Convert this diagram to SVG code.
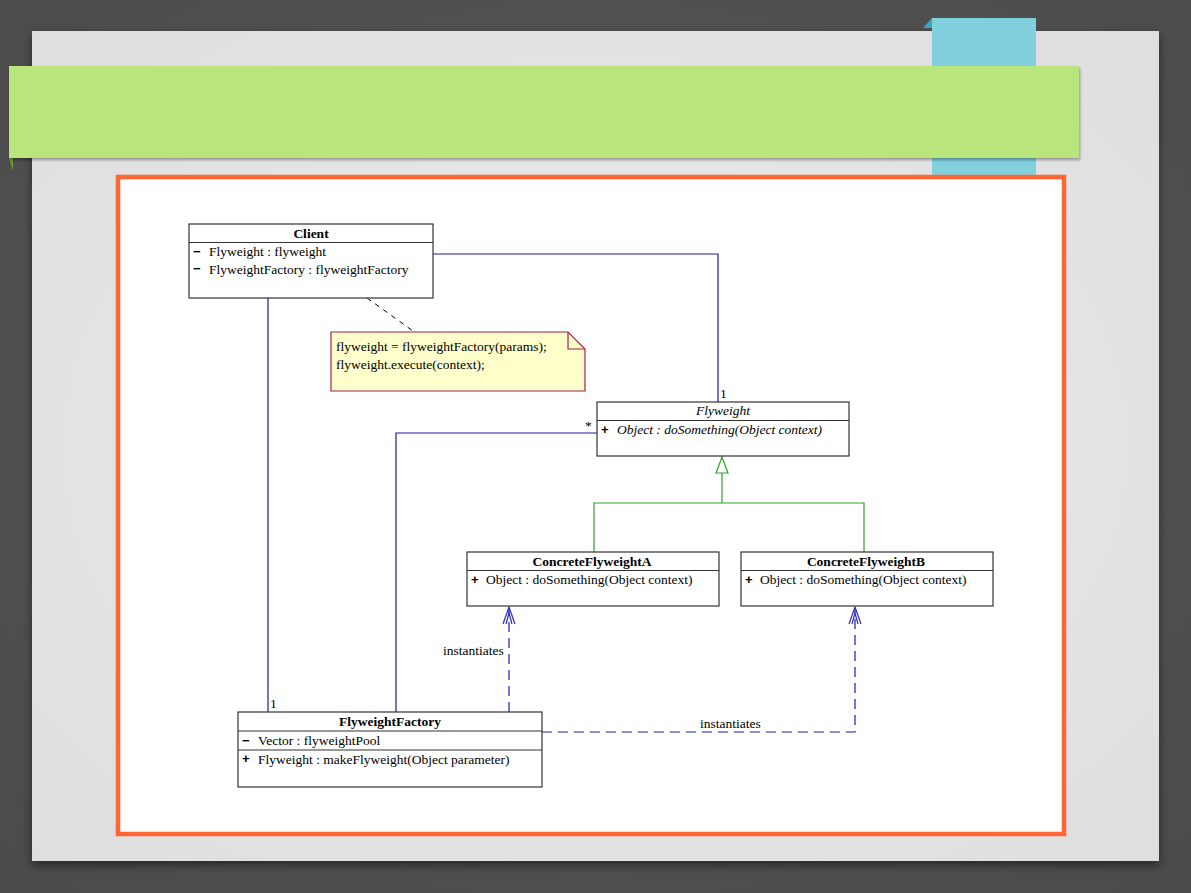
<svg xmlns="http://www.w3.org/2000/svg" width="1191" height="893" viewBox="0 0 1191 893">
<defs>
<radialGradient id="bg" cx="50%" cy="45%" r="75%">
<stop offset="0" stop-color="#5a5a5a"/><stop offset="1" stop-color="#4a4a4a"/>
</radialGradient>
<radialGradient id="panel" cx="50%" cy="50%" r="70%">
<stop offset="0" stop-color="#ececec"/><stop offset="1" stop-color="#dedede"/>
</radialGradient>
<filter id="sh" x="-5%" y="-5%" width="110%" height="115%">
<feDropShadow dx="0" dy="4" stdDeviation="5" flood-color="#000" flood-opacity="0.5"/>
</filter>
<filter id="sh2" x="-5%" y="-10%" width="110%" height="130%">
<feDropShadow dx="1" dy="2" stdDeviation="1.5" flood-color="#000" flood-opacity="0.35"/>
</filter>
</defs>
<style>
.box{fill:#fff;stroke:#333;stroke-width:1.2}
.sep{stroke:#333;stroke-width:1.2}
text.t{font-family:'Liberation Serif',serif;font-size:13.5px;fill:#000}
.b{font-weight:bold}
.i{font-style:italic}
text.m{font-family:'Liberation Sans',sans-serif;font-weight:bold;font-size:13px;fill:#000}
.assoc{fill:none;stroke:#1a1aa0;stroke-width:1.2}
.gen{fill:none;stroke:#2aa52a;stroke-width:1.2}
.dep{fill:none;stroke:#1a1ac0;stroke-width:1.2;stroke-dasharray:10,6}
.arr{fill:none;stroke:#2a2ac0;stroke-width:1.2}
</style>
<rect x="0" y="0" width="1191" height="893" fill="url(#bg)"/>
<rect x="32" y="31" width="1127" height="830" fill="url(#panel)" filter="url(#sh)"/>
<polygon points="932,18 923,28 932,28" fill="#3ea5b8"/>
<rect x="932" y="18" width="104" height="160" fill="#82d0de"/>
<polygon points="9,158 13,158 13,171" fill="#6a9e34"/>
<rect x="9" y="66" width="1070" height="92" fill="#b8e67c" filter="url(#sh2)"/>
<rect x="118" y="177" width="946" height="657" fill="#fff" stroke="#ff6633" stroke-width="4.5"/>

<g id="connectors" font-family="Liberation Serif, serif">
<polyline class="assoc" points="433,254 718,254 718,402"/>
<polyline class="assoc" points="268,298 268,712"/>
<polyline class="assoc" points="597,433 396,433 396,712"/>
<line x1="367" y1="298" x2="413" y2="331" stroke="#000" stroke-width="1" stroke-dasharray="5,5"/>
<polyline class="gen" points="594,552 594,503 864,503 864,552"/>
<line class="gen" x1="722" y1="503" x2="722" y2="473"/>
<polygon class="gen" fill="#fff" points="722,457 716,473 728,473"/>
<polyline class="dep" points="509,712 509,608"/>
<polyline class="arr" points="503,624 509,607 515,624"/>
<polyline class="arr" points="506,624 509,613 512,624"/>
<polyline class="dep" points="542,732 855,732 855,608"/>
<polyline class="arr" points="849,624 855,607 861,624"/>
<polyline class="arr" points="852,624 855,613 858,624"/>
<text class="t" x="720" y="398">1</text>
<text class="t" x="270" y="708">1</text>
<text class="t" x="585" y="430">*</text>
<text class="t" x="443" y="655">instantiates</text>
<text class="t" x="700" y="728">instantiates</text>
</g>

<g id="client" font-family="Liberation Serif, serif">
<rect class="box" x="189" y="224" width="244" height="74"/>
<line class="sep" x1="189" y1="242.5" x2="433" y2="242.5"/>
<text class="t b" x="311" y="238" text-anchor="middle">Client</text>
<text class="m" x="193" y="256">−</text>
<text class="t" x="209" y="256">Flyweight : flyweight</text>
<text class="m" x="193" y="273">−</text>
<text class="t" x="209" y="274">FlyweightFactory : flyweightFactory</text>
</g>

<g id="note" font-family="Liberation Serif, serif">
<polygon points="331,332 568,332 585,349 585,391 331,391" fill="#ffffcc" stroke="#a0204a" stroke-width="1.2"/>
<polyline points="568,332 568,349 585,349" fill="none" stroke="#a0204a" stroke-width="1.2"/>
<text class="t" x="336" y="351">flyweight = flyweightFactory(params);</text>
<text class="t" x="336" y="369">flyweight.execute(context);</text>
</g>

<g id="flyweight" font-family="Liberation Serif, serif">
<rect class="box" x="597" y="402" width="252" height="54"/>
<line class="sep" x1="597" y1="420.5" x2="849" y2="420.5"/>
<text class="t i" x="723" y="415" text-anchor="middle">Flyweight</text>
<text class="m" x="601" y="434">+</text>
<text class="t i" x="617" y="434">Object : doSomething(Object context)</text>
</g>

<g id="concreteA" font-family="Liberation Serif, serif">
<rect class="box" x="467" y="552" width="252" height="54"/>
<line class="sep" x1="467" y1="570.5" x2="719" y2="570.5"/>
<text class="t b" x="592" y="566" text-anchor="middle">ConcreteFlyweightA</text>
<text class="m" x="471" y="584">+</text>
<text class="t" x="486" y="584">Object : doSomething(Object context)</text>
</g>

<g id="concreteB" font-family="Liberation Serif, serif">
<rect class="box" x="741" y="552" width="252" height="54"/>
<line class="sep" x1="741" y1="570.5" x2="993" y2="570.5"/>
<text class="t b" x="866" y="566" text-anchor="middle">ConcreteFlyweightB</text>
<text class="m" x="745" y="584">+</text>
<text class="t" x="760" y="584">Object : doSomething(Object context)</text>
</g>

<g id="factory" font-family="Liberation Serif, serif">
<rect class="box" x="238" y="712" width="304" height="75"/>
<line class="sep" x1="238" y1="731" x2="542" y2="731"/>
<line class="sep" x1="238" y1="750" x2="542" y2="750"/>
<text class="t b" x="390" y="726" text-anchor="middle">FlyweightFactory</text>
<text class="m" x="242" y="745">−</text>
<text class="t" x="258" y="745">Vector : flyweightPool</text>
<text class="m" x="242" y="763">+</text>
<text class="t" x="258" y="764">Flyweight : makeFlyweight(Object parameter)</text>
</g>
</svg>
